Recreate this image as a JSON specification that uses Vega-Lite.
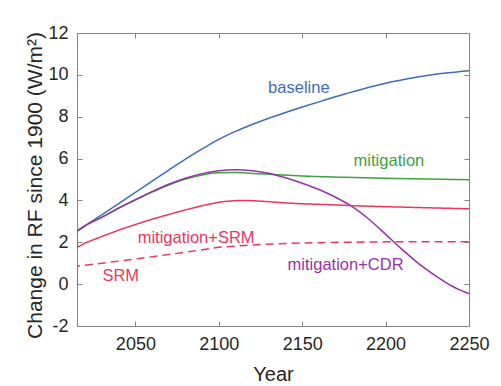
{
  "$schema": "https://vega.github.io/schema/vega-lite/v6.json",
  "width": 392,
  "height": 293,
  "autosize": {"type": "none"},
  "padding": {"left": 77, "top": 33, "right": 32, "bottom": 60},
  "background": "white",
  "config": {
    "font": "Liberation Sans",
    "view": {"stroke": "#858585", "strokeWidth": 1},
    "axis": {
      "grid": false,
      "domainColor": "#858585",
      "tickColor": "#858585",
      "labelColor": "#262626",
      "titleColor": "#262626",
      "labelFont": "Liberation Sans",
      "titleFont": "Liberation Sans",
      "labelFontSize": 18,
      "titleFontSize": 20,
      "titleFontWeight": "normal",
      "labelFlush": false,
      "tickSize": -5
    }
  },
  "datasets": {
    "smooth": [
      {"series": "baseline", "i": 0, "year": 2015, "rf": 2.52},
      {"series": "baseline", "i": 1, "year": 2020, "rf": 2.8},
      {"series": "baseline", "i": 2, "year": 2030, "rf": 3.32},
      {"series": "baseline", "i": 3, "year": 2040, "rf": 3.85},
      {"series": "baseline", "i": 4, "year": 2050, "rf": 4.38},
      {"series": "baseline", "i": 5, "year": 2060, "rf": 4.92},
      {"series": "baseline", "i": 6, "year": 2070, "rf": 5.45},
      {"series": "baseline", "i": 7, "year": 2080, "rf": 5.97},
      {"series": "baseline", "i": 8, "year": 2090, "rf": 6.46},
      {"series": "baseline", "i": 9, "year": 2100, "rf": 6.92},
      {"series": "baseline", "i": 10, "year": 2110, "rf": 7.3},
      {"series": "baseline", "i": 11, "year": 2120, "rf": 7.63},
      {"series": "baseline", "i": 12, "year": 2130, "rf": 7.93},
      {"series": "baseline", "i": 13, "year": 2140, "rf": 8.2},
      {"series": "baseline", "i": 14, "year": 2150, "rf": 8.46},
      {"series": "baseline", "i": 15, "year": 2162.5, "rf": 8.77},
      {"series": "baseline", "i": 16, "year": 2175, "rf": 9.07},
      {"series": "baseline", "i": 17, "year": 2187.5, "rf": 9.35},
      {"series": "baseline", "i": 18, "year": 2200, "rf": 9.6},
      {"series": "baseline", "i": 19, "year": 2212.5, "rf": 9.8},
      {"series": "baseline", "i": 20, "year": 2225, "rf": 9.97},
      {"series": "baseline", "i": 21, "year": 2237.5, "rf": 10.1},
      {"series": "baseline", "i": 22, "year": 2250, "rf": 10.2},

      {"series": "mitigation", "i": 0, "year": 2015, "rf": 2.54},
      {"series": "mitigation", "i": 1, "year": 2020, "rf": 2.8},
      {"series": "mitigation", "i": 2, "year": 2030, "rf": 3.2},
      {"series": "mitigation", "i": 3, "year": 2040, "rf": 3.63},
      {"series": "mitigation", "i": 4, "year": 2050, "rf": 4.02},
      {"series": "mitigation", "i": 5, "year": 2060, "rf": 4.4},
      {"series": "mitigation", "i": 6, "year": 2070, "rf": 4.74},
      {"series": "mitigation", "i": 7, "year": 2080, "rf": 5.02},
      {"series": "mitigation", "i": 8, "year": 2090, "rf": 5.22},
      {"series": "mitigation", "i": 9, "year": 2100, "rf": 5.32},
      {"series": "mitigation", "i": 10, "year": 2110, "rf": 5.33},
      {"series": "mitigation", "i": 11, "year": 2120, "rf": 5.29},
      {"series": "mitigation", "i": 12, "year": 2135, "rf": 5.23},
      {"series": "mitigation", "i": 13, "year": 2150, "rf": 5.17},
      {"series": "mitigation", "i": 14, "year": 2175, "rf": 5.11},
      {"series": "mitigation", "i": 15, "year": 2200, "rf": 5.06},
      {"series": "mitigation", "i": 16, "year": 2225, "rf": 5.02},
      {"series": "mitigation", "i": 17, "year": 2250, "rf": 4.99},

      {"series": "mitigation+CDR", "i": 0, "year": 2015, "rf": 2.54},
      {"series": "mitigation+CDR", "i": 1, "year": 2020, "rf": 2.8},
      {"series": "mitigation+CDR", "i": 2, "year": 2030, "rf": 3.2},
      {"series": "mitigation+CDR", "i": 3, "year": 2040, "rf": 3.64},
      {"series": "mitigation+CDR", "i": 4, "year": 2050, "rf": 4.04},
      {"series": "mitigation+CDR", "i": 5, "year": 2060, "rf": 4.42},
      {"series": "mitigation+CDR", "i": 6, "year": 2070, "rf": 4.77},
      {"series": "mitigation+CDR", "i": 7, "year": 2080, "rf": 5.06},
      {"series": "mitigation+CDR", "i": 8, "year": 2090, "rf": 5.28},
      {"series": "mitigation+CDR", "i": 9, "year": 2100, "rf": 5.42},
      {"series": "mitigation+CDR", "i": 10, "year": 2110, "rf": 5.47},
      {"series": "mitigation+CDR", "i": 11, "year": 2120, "rf": 5.42},
      {"series": "mitigation+CDR", "i": 12, "year": 2130, "rf": 5.3},
      {"series": "mitigation+CDR", "i": 13, "year": 2140, "rf": 5.08},
      {"series": "mitigation+CDR", "i": 14, "year": 2150, "rf": 4.82},
      {"series": "mitigation+CDR", "i": 15, "year": 2160, "rf": 4.52},
      {"series": "mitigation+CDR", "i": 16, "year": 2170, "rf": 4.15},
      {"series": "mitigation+CDR", "i": 17, "year": 2180, "rf": 3.7},
      {"series": "mitigation+CDR", "i": 18, "year": 2190, "rf": 3.1},
      {"series": "mitigation+CDR", "i": 19, "year": 2200, "rf": 2.38},
      {"series": "mitigation+CDR", "i": 20, "year": 2210, "rf": 1.65},
      {"series": "mitigation+CDR", "i": 21, "year": 2220, "rf": 0.97},
      {"series": "mitigation+CDR", "i": 22, "year": 2230, "rf": 0.4},
      {"series": "mitigation+CDR", "i": 23, "year": 2240, "rf": -0.1},
      {"series": "mitigation+CDR", "i": 24, "year": 2245, "rf": -0.3},
      {"series": "mitigation+CDR", "i": 25, "year": 2250, "rf": -0.45}
    ],
    "srm": [
      {"series": "mitigation+SRM", "i": 0, "year": 2015, "rf": 2.52},
      {"series": "mitigation+SRM", "i": 1, "year": 2015, "rf": 1.75},
      {"series": "mitigation+SRM", "i": 2, "year": 2020, "rf": 1.97},
      {"series": "mitigation+SRM", "i": 3, "year": 2030, "rf": 2.28},
      {"series": "mitigation+SRM", "i": 4, "year": 2040, "rf": 2.58},
      {"series": "mitigation+SRM", "i": 5, "year": 2050, "rf": 2.85},
      {"series": "mitigation+SRM", "i": 6, "year": 2060, "rf": 3.1},
      {"series": "mitigation+SRM", "i": 7, "year": 2070, "rf": 3.33},
      {"series": "mitigation+SRM", "i": 8, "year": 2080, "rf": 3.55},
      {"series": "mitigation+SRM", "i": 9, "year": 2090, "rf": 3.75},
      {"series": "mitigation+SRM", "i": 10, "year": 2100, "rf": 3.91},
      {"series": "mitigation+SRM", "i": 11, "year": 2105, "rf": 3.96},
      {"series": "mitigation+SRM", "i": 12, "year": 2110, "rf": 3.99},
      {"series": "mitigation+SRM", "i": 13, "year": 2115, "rf": 4.0},
      {"series": "mitigation+SRM", "i": 14, "year": 2120, "rf": 3.99},
      {"series": "mitigation+SRM", "i": 15, "year": 2130, "rf": 3.94},
      {"series": "mitigation+SRM", "i": 16, "year": 2140, "rf": 3.88},
      {"series": "mitigation+SRM", "i": 17, "year": 2150, "rf": 3.84},
      {"series": "mitigation+SRM", "i": 18, "year": 2165, "rf": 3.8},
      {"series": "mitigation+SRM", "i": 19, "year": 2180, "rf": 3.75},
      {"series": "mitigation+SRM", "i": 20, "year": 2200, "rf": 3.7},
      {"series": "mitigation+SRM", "i": 21, "year": 2225, "rf": 3.65},
      {"series": "mitigation+SRM", "i": 22, "year": 2250, "rf": 3.6},

      {"series": "SRM", "i": 0, "year": 2015, "rf": 0.0},
      {"series": "SRM", "i": 1, "year": 2015, "rf": 0.86},
      {"series": "SRM", "i": 2, "year": 2030, "rf": 1.0},
      {"series": "SRM", "i": 3, "year": 2050, "rf": 1.2},
      {"series": "SRM", "i": 4, "year": 2075, "rf": 1.47},
      {"series": "SRM", "i": 5, "year": 2100, "rf": 1.76},
      {"series": "SRM", "i": 6, "year": 2125, "rf": 1.9},
      {"series": "SRM", "i": 7, "year": 2150, "rf": 1.97},
      {"series": "SRM", "i": 8, "year": 2175, "rf": 2.0},
      {"series": "SRM", "i": 9, "year": 2200, "rf": 2.02},
      {"series": "SRM", "i": 10, "year": 2225, "rf": 2.03},
      {"series": "SRM", "i": 11, "year": 2250, "rf": 2.03}
    ],
    "labels": [
      {"series": "baseline", "label": "baseline", "year": 2148, "rf": 9.37},
      {"series": "mitigation", "label": "mitigation", "year": 2202, "rf": 5.9},
      {"series": "mitigation+SRM", "label": "mitigation+SRM", "year": 2086.4, "rf": 2.22},
      {"series": "SRM", "label": "SRM", "year": 2041.2, "rf": 0.4},
      {"series": "mitigation+CDR", "label": "mitigation+CDR", "year": 2176, "rf": 0.9}
    ]
  },
  "layer": [
    {
      "data": {"name": "smooth"},
      "mark": {"type": "line", "strokeWidth": 1.5, "clip": true, "interpolate": "monotone"},
      "encoding": {
        "x": {
          "field": "year", "type": "quantitative",
          "scale": {"domain": [2015, 2250], "nice": false, "zero": false},
          "axis": {"orient": "bottom", "values": [2050, 2100, 2150, 2200, 2250], "labelExpr": "'' + datum.value", "labelFlush": false, "title": "Year", "labelPadding": 14, "titleY": 54, "titleBaseline": "alphabetic"}
        },
        "y": {
          "field": "rf", "type": "quantitative",
          "scale": {"domain": [-2, 12], "nice": false, "zero": false},
          "axis": {"orient": "left", "values": [-2, 0, 2, 4, 6, 8, 10, 12], "labelExpr": "'' + datum.value", "labelFlush": false, "title": "Change in RF since 1900 (W/m²)", "labelPadding": 14, "titleFontSize": 21, "titleX": -36, "titleY": 152, "titleAlign": "center", "titleBaseline": "alphabetic", "titleAngle": 270}
        },
        "color": {
          "field": "series", "type": "nominal",
          "scale": {"domain": ["baseline", "mitigation", "mitigation+CDR", "mitigation+SRM", "SRM"], "range": ["#3d6db5", "#3aa43a", "#9b2fab", "#e8365c", "#e8365c"]},
          "legend": null
        },
        "order": {"field": "i", "type": "quantitative"}
      }
    },
    {
      "data": {"name": "srm"},
      "mark": {"type": "line", "strokeWidth": 1.5, "clip": true},
      "encoding": {
        "x": {"field": "year", "type": "quantitative", "scale": {"domain": [2015, 2250], "nice": false, "zero": false}, "axis": null},
        "y": {"field": "rf", "type": "quantitative", "scale": {"domain": [-2, 12], "nice": false, "zero": false}, "axis": null},
        "color": {"field": "series", "type": "nominal", "legend": null},
        "strokeDash": {
          "field": "series", "type": "nominal",
          "scale": {"domain": ["mitigation+SRM", "SRM"], "range": [[1, 0], [8, 5]]},
          "legend": null
        },
        "order": {"field": "i", "type": "quantitative"}
      }
    },
    {
      "data": {"name": "labels"},
      "mark": {"type": "text", "fontSize": 16.5, "font": "Liberation Sans", "align": "center", "baseline": "middle"},
      "encoding": {
        "x": {"field": "year", "type": "quantitative", "scale": {"domain": [2015, 2250], "nice": false, "zero": false}, "axis": {"orient": "top", "values": [2050, 2100, 2150, 2200, 2250], "labels": false, "title": null, "domain": false}},
        "y": {"field": "rf", "type": "quantitative", "scale": {"domain": [-2, 12], "nice": false, "zero": false}, "axis": {"orient": "right", "values": [-2, 0, 2, 4, 6, 8, 10, 12], "labels": false, "title": null, "domain": false}},
        "text": {"field": "label"},
        "color": {"field": "series", "type": "nominal", "legend": null}
      }
    }
  ],
  "resolve": {"axis": {"x": "independent", "y": "independent"}}
}
